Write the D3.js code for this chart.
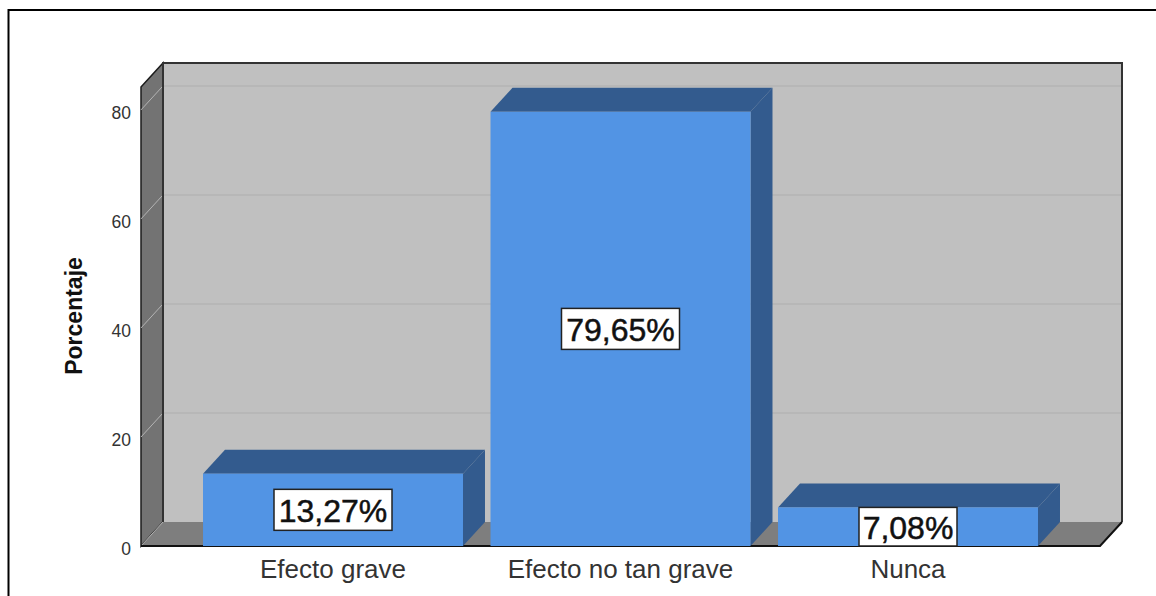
<!DOCTYPE html>
<html>
<head>
<meta charset="utf-8">
<script src="https://cdn.jsdelivr.net/npm/d3@7"></script>
<style>
  body { margin: 0; background: #fff; }
  svg { display: block; }
  text { font-family: "Liberation Sans", Arial, sans-serif; }
</style>
</head>
<body>
<div id="vis"></div>
<script>

var width = 1156,
  height = 596;

var categories = [ 'Efecto grave', 'Efecto no tan grave', 'Nunca' ];
var percentages = [ 13.27, 79.65, 7.08 ];
var valueLabels = [ '13,27%', '79,65%', '7,08%' ];
var yTicks = [ 0, 20, 40, 60, 80 ];

// Offset of the back wall relative to the front plane
var depthX = 22,
  depthY = -24;

var plotLeft = 141,
  plotRight = 1100,
  plotBottom = 546;

/* Scales */

var y = d3.scaleLinear()
  .domain( [ 0, 84.2 ] )
  .range( [ plotBottom, plotBottom - 459 ] );

var x = d3.scaleBand()
  .domain( categories )
  .range( [ 189.25, 1051.75 ] )
  .paddingInner( 0.0957 )
  .paddingOuter( 0.04785 );

var poly = pts => pts.map( p => p.join( ',' ) ).join( ' ' );

/* Drawing */

var svg = d3.select( '#vis' ).append( 'svg' )
  .attr( 'width', width )
  .attr( 'height', height );

// Outer frame, open on the right and at the bottom
svg.append( 'path' )
  .attr( 'd', `M8.5,${ height }V10H${ width }` )
  .attr( 'fill', 'none' )
  .attr( 'stroke', '#000' )
  .attr( 'stroke-width', 2 );

var yTop = y.domain()[ 1 ],
  backTop = y( yTop ) + depthY,
  backBottom = y( 0 ) + depthY;

// Left wall
svg.append( 'polygon' )
  .attr( 'points', poly( [
    [ plotLeft, y( yTop ) ], [ plotLeft + depthX, backTop ],
    [ plotLeft + depthX, backBottom ], [ plotLeft, y( 0 ) ] ] ) )
  .attr( 'fill', '#737373' )
  .attr( 'stroke', '#1c1c1c' )
  .attr( 'stroke-width', 1.5 );

// Back wall
svg.append( 'rect' )
  .attr( 'x', plotLeft + depthX )
  .attr( 'y', backTop )
  .attr( 'width', plotRight - plotLeft )
  .attr( 'height', backBottom - backTop )
  .attr( 'fill', '#c0c0c0' );

// Floor
svg.append( 'polygon' )
  .attr( 'points', poly( [
    [ plotLeft, y( 0 ) ], [ plotLeft + depthX, backBottom ],
    [ plotRight + depthX, backBottom ], [ plotRight, y( 0 ) ] ] ) )
  .attr( 'fill', '#7e7e7e' );

// Gridlines run along the back wall and down the left wall
var grid = svg.append( 'g' );

grid.selectAll( 'line.back' )
  .data( yTicks.filter( d => d > 0 ) )
  .enter().append( 'line' )
    .attr( 'class', 'back' )
    .attr( 'x1', plotLeft + depthX )
    .attr( 'x2', plotRight + depthX )
    .attr( 'y1', d => y( d ) + depthY )
    .attr( 'y2', d => y( d ) + depthY )
    .attr( 'stroke', '#b4b4b4' )
    .attr( 'stroke-width', 1.5 );

grid.selectAll( 'line.side' )
  .data( yTicks )
  .enter().append( 'line' )
    .attr( 'class', 'side' )
    .attr( 'x1', plotLeft )
    .attr( 'x2', plotLeft + depthX )
    .attr( 'y1', d => y( d ) )
    .attr( 'y2', d => y( d ) + depthY )
    .attr( 'stroke', '#b4b4b4' )
    .attr( 'stroke-width', 1 );

// Wall edges
svg.append( 'path' )
  .attr( 'd', `M${ plotLeft + depthX },${ backBottom }V${ backTop }H${ plotRight + depthX }V${ backBottom }` )
  .attr( 'fill', 'none' )
  .attr( 'stroke', '#333' )
  .attr( 'stroke-width', 2 );

svg.append( 'path' )
  .attr( 'd', `M${ plotLeft },${ y( 0 ) }H${ plotRight }L${ plotRight + depthX },${ backBottom }` )
  .attr( 'fill', 'none' )
  .attr( 'stroke', '#111' )
  .attr( 'stroke-width', 2 );

// Bars: side face, top face, front face
var bars = svg.selectAll( 'g.bar' )
  .data( categories )
  .enter().append( 'g' )
    .attr( 'class', 'bar' );

bars.append( 'polygon' )
  .attr( 'points', ( d, i ) => {
    var r = x( d ) + x.bandwidth();
    return poly( [ [ r, y( percentages[ i ] ) ], [ r + depthX, y( percentages[ i ] ) + depthY ],
      [ r + depthX, backBottom ], [ r, y( 0 ) ] ] );
  } )
  .attr( 'fill', '#335B8E' );

bars.append( 'polygon' )
  .attr( 'points', ( d, i ) => {
    var l = x( d ), r = l + x.bandwidth(), t = y( percentages[ i ] );
    return poly( [ [ l, t ], [ l + depthX, t + depthY ], [ r + depthX, t + depthY ], [ r, t ] ] );
  } )
  .attr( 'fill', '#335B8E' );

bars.append( 'rect' )
  .attr( 'x', d => x( d ) )
  .attr( 'y', ( d, i ) => y( percentages[ i ] ) )
  .attr( 'width', x.bandwidth() )
  .attr( 'height', ( d, i ) => y( 0 ) - y( percentages[ i ] ) )
  .attr( 'fill', '#5294E4' );

// Value labels in white boxes, centred on the front face and never taller than it
var boxWidths = [ 118, 118, 98 ];

bars.each( function( d, i ) {
  var barTop = y( percentages[ i ] ),
    boxH = Math.min( 41, y( 0 ) - barTop ),
    cy = ( barTop + y( 0 ) ) / 2,
    cx = x( d ) + x.bandwidth() / 2;

  var g = d3.select( this );

  g.append( 'rect' )
    .attr( 'x', cx - boxWidths[ i ] / 2 )
    .attr( 'y', cy - boxH / 2 )
    .attr( 'width', boxWidths[ i ] )
    .attr( 'height', boxH )
    .attr( 'fill', '#fff' )
    .attr( 'stroke', '#222' )
    .attr( 'stroke-width', 1.5 );

  g.append( 'text' )
    .attr( 'x', cx )
    .attr( 'y', cy + 12 )
    .attr( 'text-anchor', 'middle' )
    .attr( 'fill', '#111' )
    .attr( 'stroke', '#111' )
    .attr( 'stroke-width', 0.5 )
    .style( 'font-size', '32px' )
    .text( valueLabels[ i ] );
} );

/* Axes */

var yAxis = svg.append( 'g' )
  .attr( 'transform', `translate(${ plotLeft },0)` )
  .call( d3.axisLeft( y ).tickValues( yTicks ).tickSize( 0 ).tickPadding( 10 ) );

yAxis.select( '.domain' ).remove();
yAxis.selectAll( 'text' )
  .attr( 'dy', '0.5em' )
  .attr( 'fill', '#333' )
  .style( 'font-size', '17.5px' );

var xAxis = svg.append( 'g' )
  .attr( 'transform', `translate(0,${ plotBottom })` )
  .call( d3.axisBottom( x ).tickSize( 0 ).tickPadding( 14 ) );

xAxis.select( '.domain' ).remove();
xAxis.selectAll( 'text' )
  .attr( 'fill', '#333' )
  .style( 'font-size', '26px' );

svg.append( 'text' )
  .attr( 'transform', 'translate(82,316) rotate(-90)' )
  .attr( 'text-anchor', 'middle' )
  .attr( 'fill', '#111' )
  .style( 'font-size', '23px' )
  .style( 'font-weight', 'bold' )
  .text( 'Porcentaje' );

</script>
</body>
</html>
